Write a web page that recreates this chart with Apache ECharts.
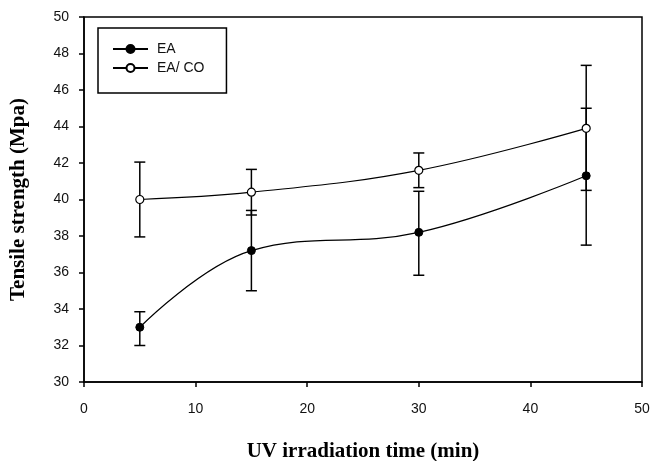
<!DOCTYPE html>
<html>
<head>
<meta charset="utf-8">
<script src="https://cdn.jsdelivr.net/npm/echarts@6/dist/echarts.min.js"></script>
<style>
  html, body { margin: 0; padding: 0; background: #fff; }
  #main { width: 652px; height: 461px; }
</style>
</head>
<body>
<div id="main"></div>
<script>
// UV irradiation time (min)
var times = [5, 15, 30, 45];

// EA
var eaMean = [33.0, 37.2, 38.2, 41.3];
var eaLow = [32.0, 35.0, 35.85, 37.5];
var eaHigh = [33.85, 39.4, 40.45, 45.0];

// EA/ CO
var coMean = [40.0, 40.4, 41.6, 43.9];
var coLow = [37.95, 39.15, 40.65, 40.5];
var coHigh = [42.05, 41.65, 42.55, 47.35];

var chart = echarts.init(document.getElementById('main'));

function pairs(xs, ys) {
  return xs.map(function (x, i) { return [x, ys[i]]; });
}
function bars(xs, lo, hi) {
  return xs.map(function (x, i) { return [x, lo[i], hi[i]]; });
}

// 误差线
function renderErr(params, api) {
  var x = api.value(0);
  var lo = api.coord([x, api.value(1)]);
  var hi = api.coord([x, api.value(2)]);
  var w = 5.5;
  var st = { stroke: '#000', lineWidth: 1.5 };
  return {
    type: 'group',
    children: [
      { type: 'line', shape: { x1: lo[0], y1: lo[1], x2: hi[0], y2: hi[1] }, style: st },
      { type: 'line', shape: { x1: lo[0] - w, y1: lo[1], x2: lo[0] + w, y2: lo[1] }, style: st },
      { type: 'line', shape: { x1: hi[0] - w, y1: hi[1], x2: hi[0] + w, y2: hi[1] }, style: st }
    ]
  };
}

var axisFont = { color: '#111', fontFamily: 'Liberation Sans', fontSize: 14 };
var titleFont = { color: '#000', fontFamily: 'Liberation Serif', fontWeight: 'bold', fontSize: 21 };

var option = {
  animation: false,
  grid: {
    left: 84, right: 10, top: 17, bottom: 79,
    outerBoundsMode: 'none',
    show: true, borderColor: '#000', borderWidth: 1.5
  },
  legend: {
    orient: 'vertical',
    left: 98, top: 28,
    padding: [14, 22, 18, 14],
    itemGap: 5,
    itemWidth: 35,
    itemHeight: 10,
    borderColor: '#000',
    borderWidth: 1.5,
    textStyle: { color: '#111', fontFamily: 'Liberation Sans', fontSize: 14, padding: [0, 0, 0, 4] },
    data: ['EA', 'EA/ CO']
  },
  xAxis: {
    type: 'value',
    min: 0, max: 50, interval: 10,
    name: 'UV irradiation time (min)',
    nameLocation: 'middle',
    nameGap: 59,
    nameTextStyle: titleFont,
    axisLine: { lineStyle: { color: '#000', width: 1.5 } },
    axisTick: { inside: false, length: 5, lineStyle: { color: '#000', width: 1.5 } },
    axisLabel: Object.assign({ margin: 20 }, axisFont),
    splitLine: { show: false }
  },
  yAxis: {
    type: 'value',
    min: 30, max: 50, interval: 2,
    name: 'Tensile strength (Mpa)',
    nameLocation: 'middle',
    nameGap: 55,
    nameTextStyle: titleFont,
    axisLine: { lineStyle: { color: '#000', width: 1.5 } },
    axisTick: { inside: false, length: 5, lineStyle: { color: '#000', width: 1.5 } },
    axisLabel: Object.assign({ margin: 15 }, axisFont),
    splitLine: { show: false }
  },
  series: [
    {
      name: 'EA-err', type: 'custom', renderItem: renderErr,
      data: bars(times, eaLow, eaHigh), z: 1
    },
    {
      name: 'EA/ CO-err', type: 'custom', renderItem: renderErr,
      data: bars(times, coLow, coHigh), z: 1
    },
    {
      name: 'EA', type: 'line', smooth: 0.4,
      data: pairs(times, eaMean),
      symbol: 'circle', symbolSize: 8,
      lineStyle: { color: '#000', width: 1.2 },
      itemStyle: { color: '#000', borderColor: '#000', borderWidth: 1 },
      z: 3
    },
    {
      name: 'EA/ CO', type: 'line', smooth: 0.4,
      data: pairs(times, coMean),
      symbol: 'circle', symbolSize: 8,
      lineStyle: { color: '#000', width: 1.2 },
      itemStyle: { color: '#fff', borderColor: '#000', borderWidth: 1.2 },
      z: 3
    }
  ]
};

chart.setOption(option);
</script>
</body>
</html>
